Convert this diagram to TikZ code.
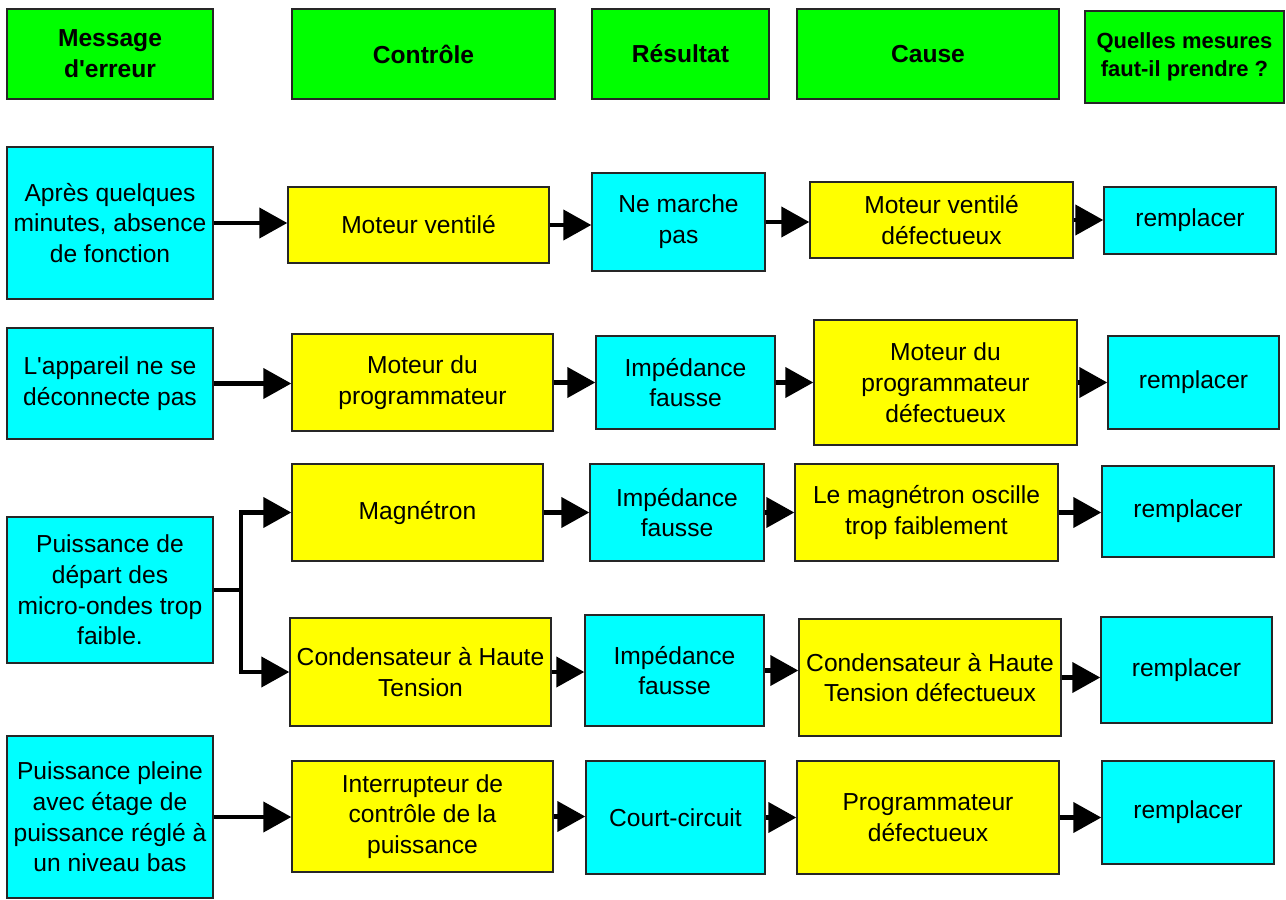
\documentclass[tikz,border=0pt]{standalone}
\usepackage{fontspec}
\setmainfont{Liberation Sans}
\usetikzlibrary{arrows.meta}
\definecolor{hgreen}{HTML}{00FF00}
\definecolor{hcyan}{HTML}{00FFFF}
\definecolor{hyellow}{HTML}{FFFF00}

\begin{document}
\begin{tikzpicture}[
  x=0.02cm,y=-0.02cm,
  base/.style={draw=black!85,line width=0.8pt,align=center,inner sep=2pt,font=\fontsize{14}{17.5}\selectfont},
  sz/.style 2 args={minimum width=#1*0.02cm,minimum height=#2*0.02cm},
  hbox/.style={base,fill=hgreen,font=\fontsize{14}{17.5}\selectfont\bfseries},
  cbox/.style={base,fill=hcyan},
  ybox/.style={base,fill=hyellow},
  arr/.style={-{Triangle[length=0.56cm,width=0.6cm]},line width=2.4pt}
]
\useasboundingbox (0,0) rectangle (1286,900);
% column headers
\node[hbox,sz={206}{90}] (hMsg) at (110,54) {Message\\d\textquotesingle erreur};
\node[hbox,sz={263}{90}] (hCtl) at (423.5,54) {Contrôle};
\node[hbox,sz={177}{90}] (hRes) at (680.5,54) {Résultat};
\node[hbox,sz={262}{90}] (hCau) at (928,54) {Cause};
\node[hbox,sz={199}{92},font=\fontsize{12.5}{16}\selectfont\bfseries] (hMes) at (1184.5,57) {Quelles mesures\\faut-il prendre~?};
% row 1
\node[cbox,sz={206}{152}] (e1) at (110,223) {Après quelques\\minutes, absence\\de fonction};
\node[ybox,sz={261}{76}] (c1) at (418.5,225) {Moteur ventilé};
\node[cbox,sz={173}{98}] (r1) at (678.5,222) {Ne marche\\pas};
\node[ybox,sz={263}{76}] (k1) at (941.5,220) {Moteur ventilé\\défectueux};
\node[cbox,sz={172}{67}] (m1) at (1190,220.5) {remplacer};
% row 2
\node[cbox,sz={206}{111}] (e2) at (110,383.5) {L\textquotesingle appareil ne se\\déconnecte pas};
\node[ybox,sz={261}{97}] (c2) at (422.5,382.5) {Moteur du\\programmateur};
\node[cbox,sz={179}{93}] (r2) at (685.5,382.5) {Impédance\\fausse};
\node[ybox,sz={263}{125}] (k2) at (945.5,382.5) {Moteur du\\programmateur\\défectueux};
\node[cbox,sz={171}{93}] (m2) at (1193.5,382.5) {remplacer};
% row 3 (two branches)
\node[cbox,sz={206}{146}] (e3) at (110,590) {Puissance de\\départ des\\micro-ondes trop\\faible.};
\coordinate (split) at (241,590);
\node[ybox,sz={251}{97}] (c3a) at (417.5,512.5) {Magnétron};
\node[cbox,sz={174}{97}] (r3a) at (677,512.5) {Impédance\\fausse};
\node[ybox,sz={263}{97}] (k3a) at (926.5,512.5) {Le magnétron oscille\\trop faiblement};
\node[cbox,sz={172}{91}] (m3a) at (1188,511.5) {remplacer};
\node[ybox,sz={261}{108}] (c3b) at (420.5,672) {Condensateur à Haute\\Tension};
\node[cbox,sz={179}{111}] (r3b) at (674.5,670.5) {Impédance\\fausse};
\node[ybox,sz={262}{117}] (k3b) at (930,677.5) {Condensateur à Haute\\Tension défectueux};
\node[cbox,sz={171}{106}] (m3b) at (1186.5,670) {remplacer};
% row 4
\node[cbox,sz={206}{162}] (e4) at (110,817) {Puissance pleine\\avec étage de\\puissance réglé à\\un niveau bas};
\node[ybox,sz={261}{111}] (c4) at (422.5,816.5) {Interrupteur de\\contrôle de la\\puissance};
\node[cbox,sz={179}{113}] (r4) at (675.5,817.5) {Court-circuit};
\node[ybox,sz={262}{113}] (k4) at (928,817.5) {Programmateur\\défectueux};
\node[cbox,sz={172}{103}] (m4) at (1188,812.5) {remplacer};
% arrows
\draw[arr] (e1)--(e1-|c1.west); \draw[arr] (c1)--(c1-|r1.west); \draw[arr] (r1)--(r1-|k1.west); \draw[arr] (k1)--(k1-|m1.west);
\draw[arr] (e2)--(e2-|c2.west); \draw[arr] (c2)--(c2-|r2.west); \draw[arr] (r2)--(r2-|k2.west); \draw[arr] (k2)--(k2-|m2.west);
\draw[line width=2.4pt] (e3)--(split);
\draw[arr] (split) |- (c3a); \draw[arr] (split) |- (c3b);
\draw[arr] (c3a)--(c3a-|r3a.west); \draw[arr] (r3a)--(r3a-|k3a.west); \draw[arr] (k3a)--(k3a-|m3a.west);
\draw[arr] (c3b)--(c3b-|r3b.west); \draw[arr] (r3b)--(r3b-|k3b.west); \draw[arr] (k3b)--(k3b-|m3b.west);
\draw[arr] (e4)--(e4-|c4.west); \draw[arr] (c4)--(c4-|r4.west); \draw[arr] (r4)--(r4-|k4.west); \draw[arr] (k4)--(k4-|m4.west);
\end{tikzpicture}
\end{document}
